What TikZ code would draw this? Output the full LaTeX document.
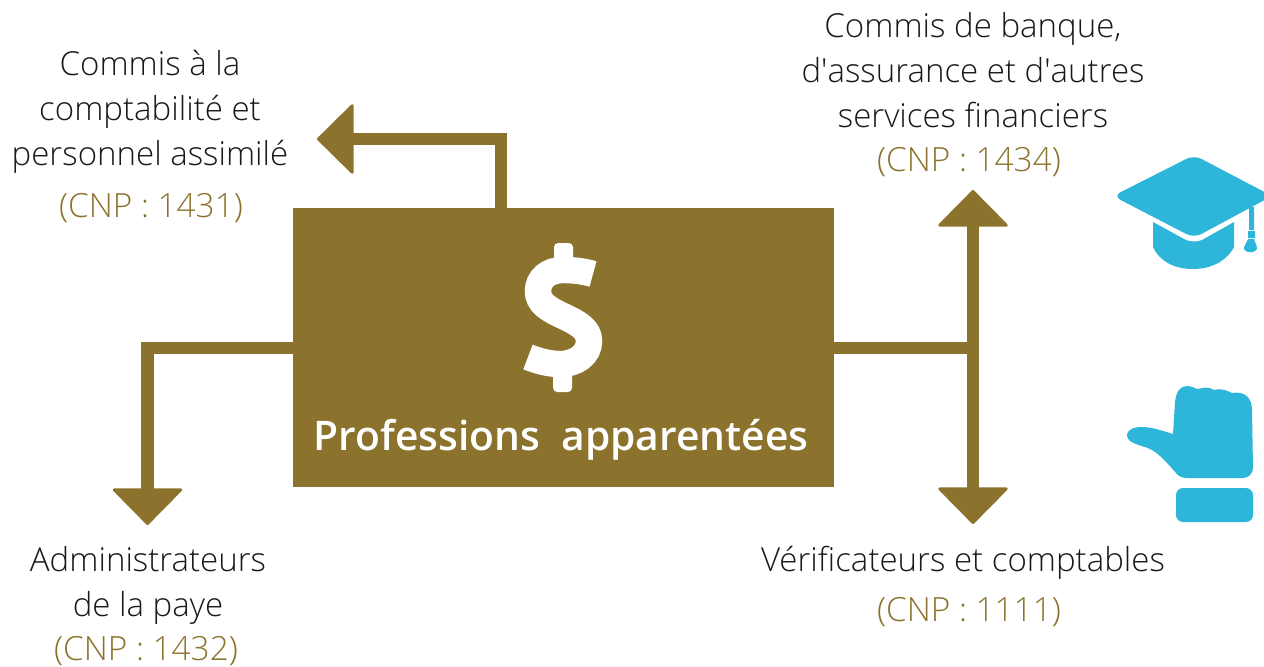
\documentclass[tikz,border=0pt]{standalone}
\usepackage{fontspec}
\setmainfont{Open Sans}[UprightFont=* Light]
\newfontfamily\aposfont{Open Sans}[UprightFont=* Light]
\usetikzlibrary{arrows.meta}
\definecolor{gold}{HTML}{8B732D}
\definecolor{iconblue}{HTML}{2DB6DA}
\newcommand{\apos}{{\aposfont\char39}}
\tikzset{
  lbl/.style={align=center,font=\fontsize{23.5}{32}\selectfont,text=black!90},
  cnp/.style={font=\fontsize{23.7}{32}\selectfont,text=gold},
  link/.style={draw=gold,line width=0.3cm},
  tip/.style={-{Triangle[round,line width=2pt,width=1.82cm,length=0.93cm]}}
}
\begin{document}
\begin{tikzpicture}[x=0.025cm,y=-0.025cm]
\useasboundingbox (0,0) rectangle (1264,666);
\node (box) at (563.5,347.5) [fill=gold,minimum width=13.525cm,minimum height=6.975cm] {};
\node (title) at (561,440) [text=white,font=\fontsize{29}{32}\bfseries\selectfont] {Professions\ \ apparentées};
% labels
\node (compta) at (150,112) [lbl] {Commis à la\\comptabilité et\\personnel assimilé};
\node (comptaC) at (151,208) [cnp] {(CNP : 1431)};
\node (banque) at (973,70) [lbl] {Commis de banque,\\d\apos assurance et d\apos autres\\services financiers};
\node (banqueC) at (969,162) [cnp] {(CNP : 1434)};
\node (paye) at (148,585) [lbl] {Administrateurs\\de la paye};
\node (payeC) at (146,651) [cnp] {(CNP : 1432)};
\node (verif) at (963,563) [lbl] {Vérificateurs et comptables};
\node (verifC) at (969,612) [cnp] {(CNP : 1111)};
% arrows
\coordinate (topT) at (317,139);
\coordinate (leftT) at (147.5,525);
\coordinate (upT) at (973,190);
\coordinate (downT) at (973,524);
\coordinate (mid) at (973,347.5);
\draw[link,tip] (box.north -| 501,0) |- (topT);
\draw[link,tip] (box.west |- 0,348) -| (leftT);
\draw[link] (box.east |- 0,347.5) -- (mid);
\draw[link,tip] (mid) -- (upT);
\draw[link,tip] (mid) -- (downT);
% dollar
\draw[white,line width=0.66cm] (593,274) .. controls (583,271) and (572,270) .. (563,270) .. controls (548,270) and (538,279) .. (538,291) .. controls (538,303) and (548,309) .. (563,316) .. controls (578,323) and (589,329) .. (589,341) .. controls (589,355) and (576,364) .. (560,364) .. controls (549,364) and (538,361) .. (528,357);
\fill[white,rounded corners=3pt] (554,243) rectangle (573,266) (553,368) rectangle (572,392);
% cap
\fill[iconblue,rounded corners=6pt] (1194,155) -- (1272,196) -- (1194,238) -- (1113,196) -- cycle;
\fill[iconblue] (1153,222) -- (1186,240) .. controls (1191,242) and (1197,242) .. (1202,240) -- (1234,222) -- (1234,247) .. controls (1226,262) and (1210,269) .. (1193,269) .. controls (1175,269) and (1160,262) .. (1153,247) -- cycle;
\fill[iconblue] (1249,207) rectangle (1254,230) (1248,231) rectangle (1255,238);
\fill[iconblue] (1248,239) -- (1254,239) -- (1257,247) .. controls (1258,254) and (1243,254) .. (1244,247) -- cycle;
% hand
\fill[iconblue] (1127,435) .. controls (1128,428) and (1136,427) .. (1142,427) .. controls (1152,427) and (1163,431) .. (1173,434) -- (1175,402) .. controls (1176,392) and (1180,386) .. (1187,386) .. controls (1193,386) and (1195,389) .. (1198,389) .. controls (1204,387) and (1210,387) .. (1214,390) .. controls (1220,388) and (1226,390) .. (1232,393) .. controls (1244,391) and (1252,397) .. (1252,410) -- (1253,468) .. controls (1253,474) and (1248,478) .. (1243,478) -- (1187,478) .. controls (1182,478) and (1178,476) .. (1176,473) .. controls (1168,464) and (1160,454) .. (1150,449) .. controls (1142,445) and (1127,444) .. (1127,435) -- cycle;
\fill[iconblue,rounded corners=5pt] (1176,488) rectangle (1253,522);
\end{tikzpicture}
\end{document}
